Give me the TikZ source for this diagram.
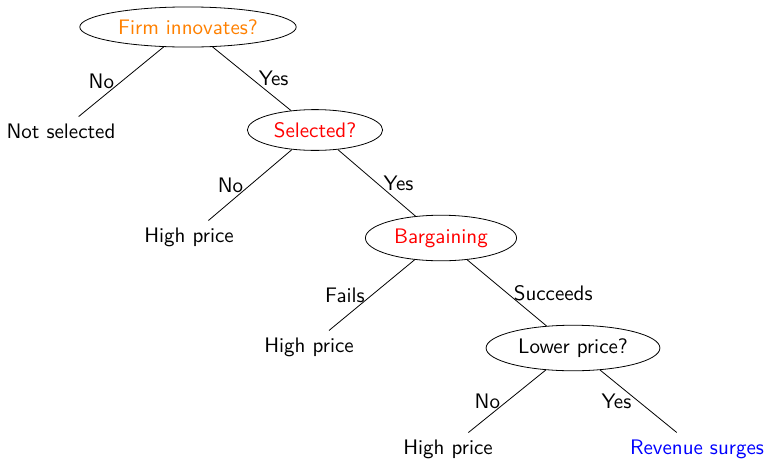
\documentclass[tikz,border=0pt]{standalone}
\usetikzlibrary{shapes.geometric}

\tikzset{
  question/.style={ellipse, draw},
  leaf/.style={},
}

\begin{document}
\begin{tikzpicture}[x=0.5pt, y=-0.5pt, font=\sffamily\fontsize{10.5}{12.6}\selectfont]
    \useasboundingbox (0,0) rectangle (765,461);
    % decisions
    \node[question, text=orange] (innov) at (188,27) {Firm innovates?};
    \node[question, text=red] (sel) at (315,130) {Selected?};
    \node[question, text=red] (barg) at (441,238) {Bargaining};
    \node[question] (lower) at (573,348) {Lower price?};
    % outcomes
    \node[leaf] (notsel) at (61,131) {Not selected};
    \node[leaf] (high1) at (189,237) {High price};
    \node[leaf] (high2) at (309,347) {High price};
    \node[leaf] (high3) at (448,449) {High price};
    \node[leaf, text=blue] (surge) at (697,449) {Revenue surges};
    % branches
    \draw (innov) -- (notsel) node[midway, left] {No};
    \draw (innov) -- (sel) node[midway, right] {Yes};
    \draw (sel) -- (high1) node[midway, left] {No};
    \draw (sel) -- (barg) node[midway, right] {Yes};
    \draw (barg) -- (high2) node[midway, left] {Fails};
    \draw (barg) -- (lower) node[midway, right] {Succeeds};
    \draw (lower) -- (high3) node[midway, left] {No};
    \draw (lower) -- (surge) node[midway, left] {Yes};
  \end{tikzpicture}
\end{document}
